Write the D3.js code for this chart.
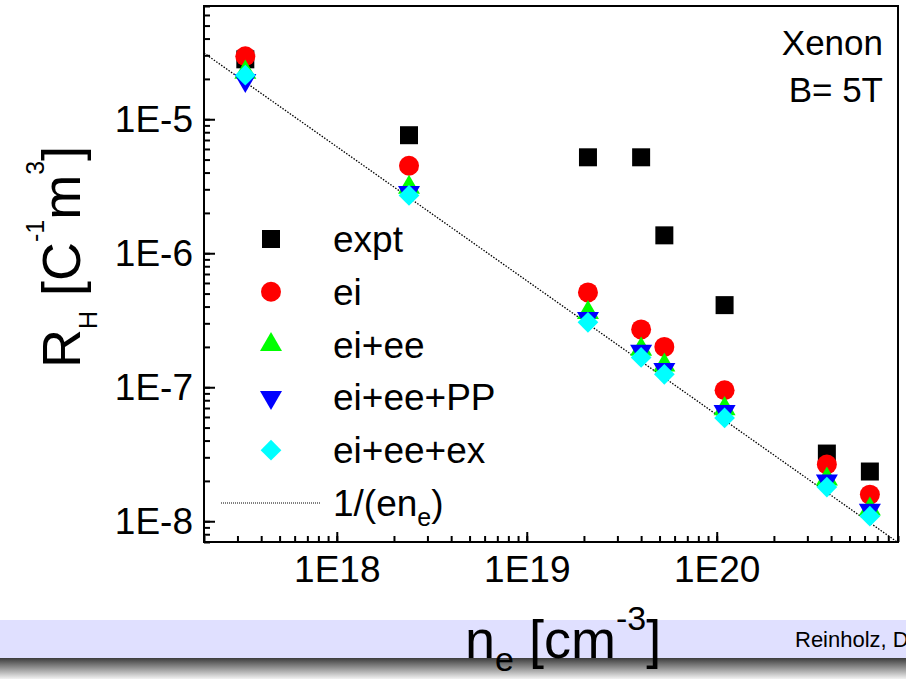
<!DOCTYPE html>
<html>
<head>
<meta charset="utf-8">
<script src="https://cdn.jsdelivr.net/npm/d3@7"></script>
<style>
  body { margin: 0; background: #fff; }
  svg { font-family: "Liberation Sans", Arial, sans-serif; }
</style>
</head>
<body>
<div id="main"></div>
<script>
// dataset (n_e in cm^-3, R_H in C^-1 m^3)
const density = [3.3e17, 2.4e18, 2.1e19, 4.0e19, 5.3e19, 1.1e20, 3.8e20, 6.4e20];
const expt    = [2.8e-5, 7.6e-6, 5.2e-6, 5.2e-6, 1.36e-6, 4.1e-7, 3.2e-8, 2.35e-8];
const ei      = [2.95e-5, 4.5e-6, 5.1e-7, 2.7e-7, 2.0e-7, 9.5e-8, 2.65e-8, 1.58e-8];
const eiEe    = [2.24e-5, 3.1e-6, 3.6e-7, 1.92e-7, 1.46e-7, 6.9e-8, 2.06e-8, 1.23e-8];
const eiEePP  = [1.95e-5, 2.85e-6, 3.27e-7, 1.86e-7, 1.36e-7, 6.6e-8, 2.0e-8, 1.21e-8];
const eiEeEx  = [2.13e-5, 2.7e-6, 3.05e-7, 1.67e-7, 1.25e-7, 5.9e-8, 1.8e-8, 1.09e-8];
// 1/(e n_e) reference line, end points
const lineN = [2e17, 9e20];
const lineR = [3.12e-5, 6.93e-9];

const xTicks = [1e18, 1e19, 1e20];
const xTickLabels = ['1E18', '1E19', '1E20'];
const yTicks = [1e-5, 1e-6, 1e-7, 1e-8];
const yTickLabels = ['1E-5', '1E-6', '1E-7', '1E-8'];
const seriesNames = ['expt', 'ei', 'ei+ee', 'ei+ee+PP', 'ei+ee+ex'];
// dataset

const series = [
  { name: seriesNames[0], values: expt,   color: '#000000', shape: 'square' },
  { name: seriesNames[1], values: ei,     color: '#ff0000', shape: 'circle' },
  { name: seriesNames[2], values: eiEe,   color: '#00ff00', shape: 'up' },
  { name: seriesNames[3], values: eiEePP, color: '#0000ff', shape: 'down' },
  { name: seriesNames[4], values: eiEeEx, color: '#00ffff', shape: 'diamond' }
];

// dimensions
const W = 906, H = 679;
const plotLeft = 204, plotRight = 898, plotTop = 6, plotBottom = 542;

const svg = d3.select('#main').append('svg')
  .attr('width', W)
  .attr('height', H);

// slide footer band
const grad = svg.append('defs').append('linearGradient')
  .attr('id', 'shade').attr('x1', 0).attr('y1', 0).attr('x2', 0).attr('y2', 1);
grad.append('stop').attr('offset', 0).attr('stop-color', '#3c3c3c');
grad.append('stop').attr('offset', 1).attr('stop-color', '#f2f2f2');

svg.append('rect').attr('x', 0).attr('y', 620).attr('width', W).attr('height', 38)
  .attr('fill', '#e0e0ff');
svg.append('rect').attr('x', 0).attr('y', 658).attr('width', W).attr('height', 21)
  .attr('fill', 'url(#shade)');
svg.append('text')
  .attr('x', 795).attr('y', 647)
  .attr('font-size', 22)
  .text('Reinholz, D');

// scales
const x = d3.scaleLog().domain([2e17, 9e20]).range([plotLeft, plotRight]);
const y = d3.scaleLog().domain([7e-9, 7e-5]).range([plotBottom, plotTop]);

svg.append('clipPath').attr('id', 'plot')
  .append('rect').attr('x', plotLeft).attr('y', plotTop)
  .attr('width', plotRight - plotLeft).attr('height', plotBottom - plotTop);

// axes: ticks point inward
const axisStyle = g => {
  g.select('.domain').remove();
  g.selectAll('line').attr('stroke', '#000').attr('stroke-width', 2);
  g.selectAll('text').attr('font-size', 37).attr('fill', '#000')
    .attr('font-family', '"Liberation Sans", Arial, sans-serif');
};

svg.append('g')
  .attr('transform', `translate(0,${plotBottom})`)
  .call(d3.axisBottom(x).tickValues(x.ticks()).tickSize(-6).tickFormat(''))
  .call(axisStyle);
svg.append('g')
  .attr('transform', `translate(0,${plotBottom})`)
  .call(d3.axisBottom(x).tickValues(xTicks).tickSize(-10).tickPadding(14)
    .tickFormat((d, i) => xTickLabels[i]))
  .call(axisStyle);

svg.append('g')
  .attr('transform', `translate(${plotLeft},0)`)
  .call(d3.axisLeft(y).tickValues(y.ticks()).tickSize(-6).tickFormat(''))
  .call(axisStyle);
svg.append('g')
  .attr('transform', `translate(${plotLeft},0)`)
  .call(d3.axisLeft(y).tickValues(yTicks).tickSize(-11).tickPadding(11)
    .tickFormat((d, i) => yTickLabels[i]))
  .call(axisStyle);

// frame
svg.append('rect')
  .attr('x', plotLeft).attr('y', plotTop)
  .attr('width', plotRight - plotLeft).attr('height', plotBottom - plotTop)
  .attr('fill', 'none').attr('stroke', '#000').attr('stroke-width', 2);

// 1/(e n_e) line
svg.append('path')
  .attr('clip-path', 'url(#plot)')
  .attr('d', d3.line().x(d => x(d[0])).y(d => y(d[1]))(lineN.map((n, i) => [n, lineR[i]])))
  .attr('fill', 'none')
  .attr('stroke', '#000')
  .attr('stroke-width', 1.3)
  .attr('stroke-dasharray', '1.5,1.5');

// marker shapes
function symbolPath(shape) {
  if (shape === 'square') return d3.symbol(d3.symbolSquare, 324)();
  if (shape === 'circle') return d3.symbol(d3.symbolCircle, 314)();
  if (shape === 'up' || shape === 'down') return d3.symbol(d3.symbolTriangle, 210)();
  return d3.symbol(d3.symbolSquare, 215)();
}
function symbolRotate(shape) {
  if (shape === 'down') return ' rotate(180)';
  if (shape === 'diamond') return ' rotate(45)';
  return '';
}

series.forEach(s => {
  svg.append('g').selectAll('path')
    .data(s.values)
    .enter()
    .append('path')
    .attr('d', symbolPath(s.shape))
    .attr('transform', (v, i) => `translate(${x(density[i])},${y(v)})${symbolRotate(s.shape)}`)
    .attr('fill', s.color);
});

// legend
const legend = svg.append('g');
const rowY = i => 239 + i * 52.8;
series.forEach((s, i) => {
  legend.append('path')
    .attr('d', symbolPath(s.shape))
    .attr('transform', `translate(271,${rowY(i)})${symbolRotate(s.shape)}`)
    .attr('fill', s.color);
  legend.append('text')
    .attr('x', 333).attr('y', rowY(i) + 13)
    .attr('font-size', 37)
    .text(s.name);
});
legend.append('line')
  .attr('x1', 221).attr('x2', 320)
  .attr('y1', rowY(5)).attr('y2', rowY(5))
  .attr('stroke', '#000').attr('stroke-width', 1)
  .attr('stroke-dasharray', '1,1');
const lineLabel = legend.append('text')
  .attr('x', 333).attr('y', rowY(5) + 13)
  .attr('font-size', 37);
lineLabel.append('tspan').text('1/(en');
lineLabel.append('tspan').attr('font-size', 25).attr('dy', 10).text('e');
lineLabel.append('tspan').attr('dy', -10).text(')');

// annotation
svg.append('text').attr('x', 883).attr('y', 55)
  .attr('text-anchor', 'end').attr('font-size', 35).text('Xenon');
svg.append('text').attr('x', 883).attr('y', 102)
  .attr('text-anchor', 'end').attr('font-size', 35).text('B= 5T');

// axis titles
const yTitle = svg.append('text')
  .attr('transform', 'translate(80,257) rotate(-90)')
  .attr('text-anchor', 'middle')
  .attr('font-size', 54);
yTitle.append('tspan').text('R');
yTitle.append('tspan').attr('font-size', 25).attr('dy', 17).text('H');
yTitle.append('tspan').attr('dy', -17).text(' [C');
yTitle.append('tspan').attr('font-size', 25).attr('dy', -36).text('-1');
yTitle.append('tspan').attr('dy', 36).text('m');
yTitle.append('tspan').attr('font-size', 25).attr('dy', -36).text('3');
yTitle.append('tspan').attr('dy', 36).text(']');

const xTitle = svg.append('text')
  .attr('x', 465).attr('y', 658)
  .attr('font-size', 54);
xTitle.append('tspan').text('n');
xTitle.append('tspan').attr('font-size', 34).attr('dy', 13).text('e');
xTitle.append('tspan').attr('dy', -13).text(' [cm');
xTitle.append('tspan').attr('font-size', 34).attr('dy', -28).text('-3');
xTitle.append('tspan').attr('dy', 28).text(']');
</script>
</body>
</html>
